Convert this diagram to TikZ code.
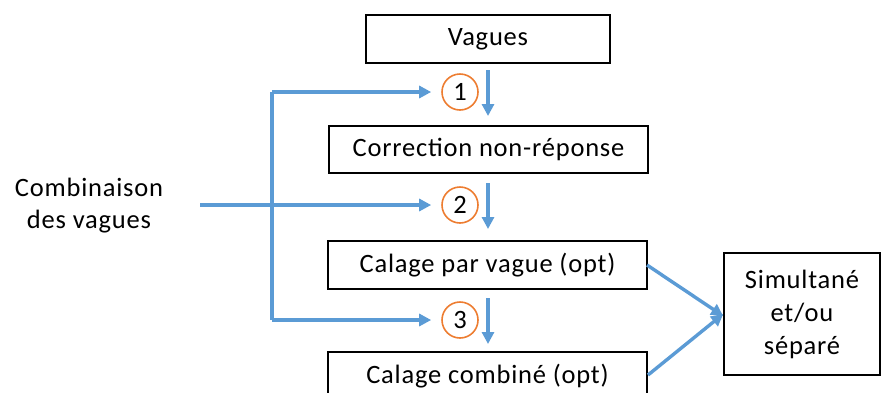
\documentclass[tikz,border=0pt]{standalone}
\usepackage{fontspec}
\setmainfont{Carlito}[LetterSpace=3]
\usetikzlibrary{arrows.meta}
\definecolor{cblue}{HTML}{5B9BD5}
\definecolor{corange}{HTML}{ED7D31}
\begin{document}
\begin{tikzpicture}[x=1pt,y=-1pt,
  every node/.style={font=\fontsize{26.5}{32}\selectfont, inner sep=0pt},
  boxx/.style={draw=black, line width=1.6pt, minimum height=48pt, anchor=center},
  numc/.style={draw=corange, line width=1.6pt, circle, minimum size=36pt},
  flow/.style={draw=cblue, line width=3.4pt, -{Triangle[length=12pt,width=12pt]}},
  flowline/.style={draw=cblue, line width=3.4pt}]
\useasboundingbox (0,0) rectangle (883,392);
\node[boxx, minimum width=244pt] (vag) at (488,39) {Vagues};
\node[boxx, minimum width=319pt, minimum height=47pt] (corr) at (488.5,149.5) {Correction non-réponse};
\node[boxx, minimum width=319pt] (calv) at (487.5,265) {Calage par vague (opt)};
\node[boxx, minimum width=319pt] (calc) at (487.5,376) {Calage combiné (opt)};
\node[boxx, minimum width=156pt, minimum height=122pt, align=center, font=\fontsize{26.5}{33}\selectfont] (sim) at (802,314) {Simultané\\et/ou\\séparé};
\node[numc] (n1) at (460,92) {1};
\node[numc] (n2) at (460,205) {2};
\node[numc] (n3) at (460,320) {3};
\node[align=center, font=\fontsize{26.5}{32}\selectfont] (comb) at (89,206) {Combinaison\\des vagues};
\coordinate (d1s) at (488,70); \coordinate (d1e) at (488,116);
\coordinate (d2s) at (488,183); \coordinate (d2e) at (488,229);
\coordinate (d3s) at (488,298); \coordinate (d3e) at (488,344);
\draw[flow] (d1s) -- (d1e);
\draw[flow] (d2s) -- (d2e);
\draw[flow] (d3s) -- (d3e);
\coordinate (ltop) at (272,92);
\coordinate (lbot) at (272,320);
\coordinate (mstart) at (200,205);
\draw[flowline] (ltop) -- (lbot);
\draw[flow] (ltop) -- ([xshift=-10pt]n1.west);
\draw[flow] (lbot) -- ([xshift=-10pt]n3.west);
\draw[flow] (mstart) -- ([xshift=-10pt]n2.west);
\draw[flow] (647,265) -- ([yshift=-2pt]sim.west);
\draw[flow] (648,375) -- ([yshift=0pt]sim.west);
\end{tikzpicture}
\end{document}
